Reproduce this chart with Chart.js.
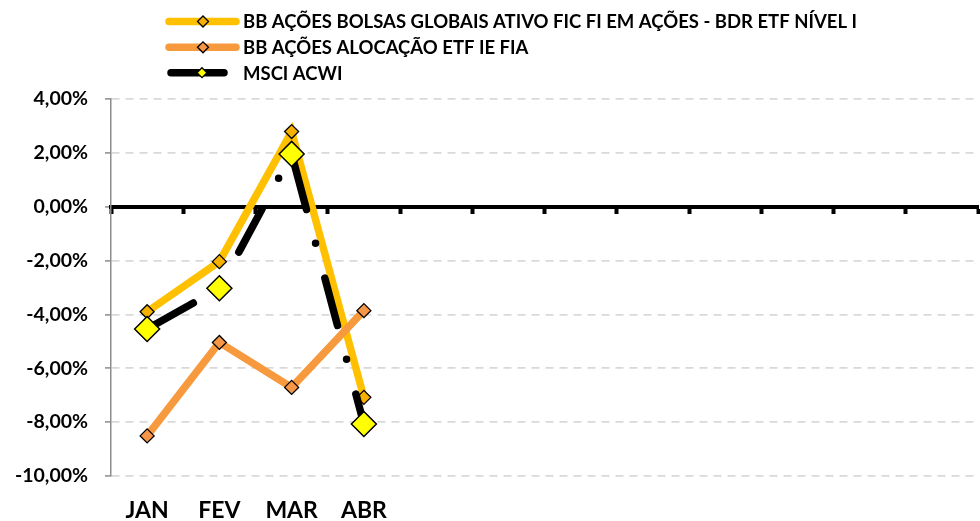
<!DOCTYPE html>
<html>
<head>
<meta charset="utf-8">
<script src="https://cdn.jsdelivr.net/npm/chart.js@4"></script>
<style>
  html, body { margin: 0; padding: 0; background: #fff; }
  #wrap { width: 980px; height: 521px; position: relative; }
</style>
</head>
<body>
<div id="wrap"><canvas id="c" width="980" height="521"></canvas></div>
<script>
const categories = ['JAN', 'FEV', 'MAR', 'ABR', '', '', '', '', '', '', '', ''];
const seriesNames = [
  'BB AÇÕES BOLSAS GLOBAIS ATIVO FIC FI EM AÇÕES - BDR ETF NÍVEL I',
  'BB AÇÕES ALOCAÇÃO ETF IE FIA',
  'MSCI ACWI'
];
const bolsasGlobais = [-3.90, -2.04, 2.79, -7.08, null, null, null, null, null, null, null, null];
const alocacao = [-8.51, -5.04, -6.71, -3.86, null, null, null, null, null, null, null, null];
const msciAcwi = [-4.54, -3.03, 1.96, -8.07, null, null, null, null, null, null, null, null];
const yMin = -10, yMax = 4, yStep = 2;

const FONT = 'Lato, "Open Sans", "Liberation Sans", sans-serif';
const WEIGHT = 'bold';

const legendPlugin = {
  id: 'customLegend',
  afterDraw(chart) {
    const ctx = chart.ctx;
    const rows = [
      { y: 21.5, x1: 165, x2: 240, mx: 203, ds: 0, mr: 5.5, mfill: '#F5B000' },
      { y: 47.3, x1: 165, x2: 240, mx: 203, ds: 1, mr: 5.5, mfill: '#F79646' },
      { y: 72.7, x1: 167, x2: 228, mx: 202, ds: 2, mr: 5, mfill: '#FFFF00' }
    ];
    rows.forEach(r => {
      const d = chart.data.datasets[r.ds];
      ctx.save();
      ctx.strokeStyle = d.borderColor;
      ctx.lineWidth = d.borderWidth;
      ctx.lineCap = 'round';
      ctx.beginPath();
      ctx.moveTo(r.x1 + 4, r.y);
      ctx.lineTo(r.x2 - 4, r.y);
      ctx.stroke();
      ctx.fillStyle = r.mfill;
      ctx.strokeStyle = '#000';
      ctx.lineWidth = 1.3;
      Chart.helpers.drawPoint(ctx, { pointStyle: 'rectRot', radius: r.mr, rotation: 0, borderWidth: 1.3 }, r.mx, r.y);
      ctx.fillStyle = '#000';
      ctx.font = WEIGHT + ' 18.5px ' + FONT;
      ctx.textBaseline = 'middle';
      ctx.textAlign = 'left';
      ctx.fillText(seriesNames[r.ds], 243, r.y + 1);
      ctx.restore();
    });
  }
};

function zeroPad(scale) { scale.paddingLeft = 0; scale.paddingRight = 0; scale.paddingTop = 0; scale.paddingBottom = 0; }

new Chart(document.getElementById('c'), {
  type: 'line',
  data: {
    labels: categories,
    datasets: [
      {
        label: seriesNames[0],
        data: bolsasGlobais,
        borderColor: '#FFC000',
        borderWidth: 7.5,
        pointStyle: 'rectRot',
        pointRadius: 7,
        pointBackgroundColor: '#F5B000',
        pointBorderColor: '#000',
        pointBorderWidth: 1.3,
        tension: 0,
        order: 3,
        xAxisID: 'x',
        yAxisID: 'y'
      },
      {
        label: seriesNames[1],
        data: alocacao,
        borderColor: '#F79A3E',
        borderWidth: 7.5,
        pointStyle: 'rectRot',
        pointRadius: 7,
        pointBackgroundColor: '#F79646',
        pointBorderColor: '#000',
        pointBorderWidth: 1.3,
        tension: 0,
        order: 2,
        xAxisID: 'x',
        yAxisID: 'y'
      },
      {
        label: seriesNames[2],
        data: msciAcwi,
        borderColor: '#000000',
        borderWidth: 7.5,
        borderDash: [49, 35, 0, 36],
        borderDashOffset: 116,
        borderCapStyle: 'round',
        pointStyle: 'rectRot',
        pointRadius: 12.5,
        pointBackgroundColor: '#FFFF00',
        pointBorderColor: '#000',
        pointBorderWidth: 1.5,
        tension: 0,
        order: 1,
        xAxisID: 'x',
        yAxisID: 'y'
      }
    ]
  },
  options: {
    responsive: false,
    animation: false,
    events: [],
    layout: { autoPadding: false, padding: { top: 99, right: 2, left: 0, bottom: 0 } },
    plugins: {
      legend: { display: false },
      tooltip: { enabled: false }
    },
    scales: {
      x: {
        type: 'category',
        position: { y: 0 },
        offset: true,
        grid: {
          display: true,
          offset: true,
          drawOnChartArea: false,
          drawTicks: true,
          tickLength: 5,
          tickColor: '#000',
          tickWidth: 4,
          color: '#000'
        },
        border: { display: true, color: '#000', width: 4 },
        ticks: { display: false },
        afterFit: zeroPad
      },
      x2: {
        type: 'category',
        position: 'bottom',
        offset: true,
        grid: { display: false, drawTicks: false },
        border: { display: false },
        ticks: {
          color: '#000',
          padding: 21,
          autoSkip: false,
          maxRotation: 0,
          font: { family: FONT, size: 23, weight: WEIGHT }
        },
        afterFit(scale) { scale.height = 45; zeroPad(scale); }
      },
      y: {
        position: 'left',
        min: yMin,
        max: yMax,
        grid: {
          color: '#D9D9D9',
          lineWidth: 1.8,
          drawTicks: true,
          tickLength: 6,
          tickColor: '#8C8C8C',
          tickWidth: 1.5
        },
        border: { display: true, color: '#8C8C8C', width: 1.5, dash: [8, 6] },
        ticks: {
          stepSize: yStep,
          color: '#000',
          padding: 17,
          font: { family: FONT, size: 19.5, weight: WEIGHT },
          callback: (v) => v.toFixed(2).replace('.', ',') + '%'
        },
        afterFit(scale) { scale.width = 111; zeroPad(scale); }
      }
    }
  },
  plugins: [legendPlugin]
});
</script>
</body>
</html>
